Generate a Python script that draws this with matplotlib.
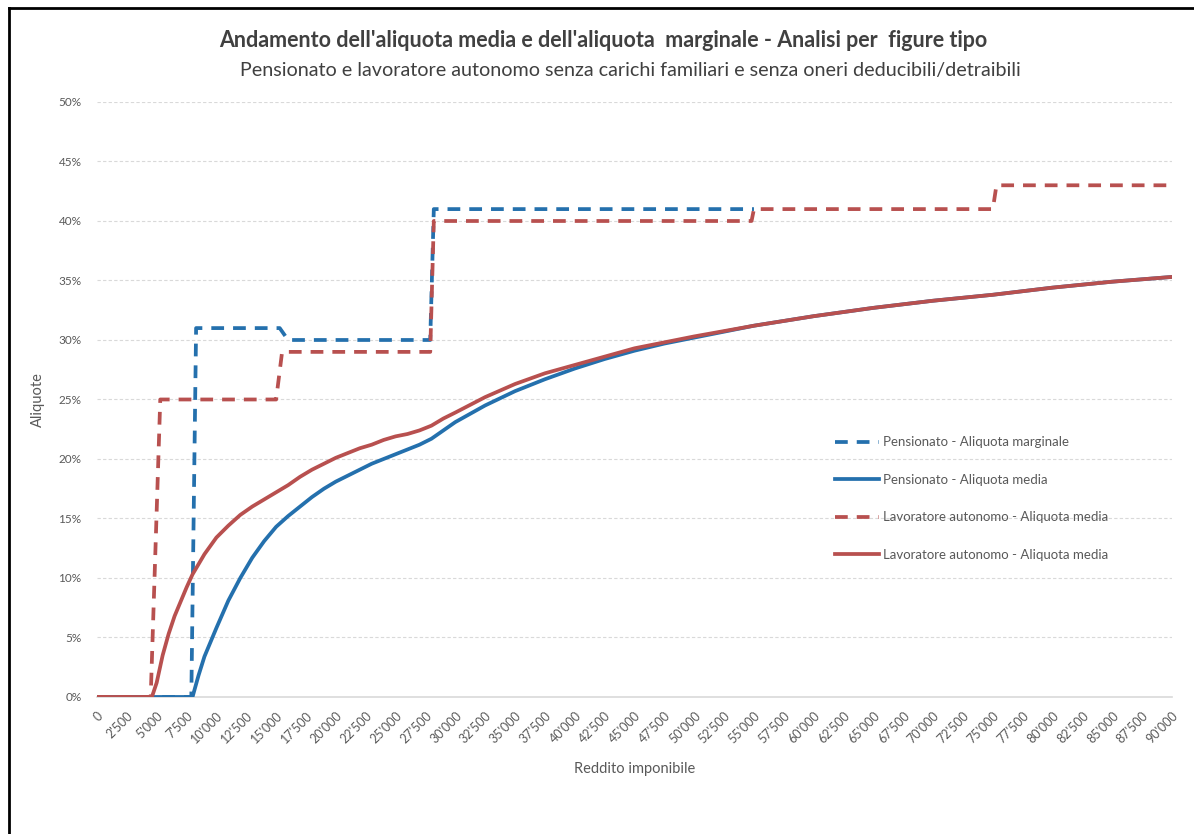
import matplotlib.pyplot as plt
import matplotlib as mpl
from matplotlib.lines import Line2D

mpl.rcParams['font.family'] = ['Lato', 'DejaVu Sans']

# reddito imponibile (euro) e aliquote (%)
pens_marg_x = [0, 7900, 8300, 15300, 16000, 27900, 28200, 55000]
pens_marg_y = [0, 0, 31, 31, 30, 30, 41, 41]

lav_marg_x = [0, 4500, 5300, 15000, 15500, 27900, 28200, 54800, 55000, 75000, 75300, 90000]
lav_marg_y = [0, 0, 25, 25, 29, 29, 40, 40, 41, 41, 43, 43]

pens_media_x = [0, 8000, 8500, 9000, 10000, 11000, 12000, 13000, 14000, 15000, 16000,
                17000, 18000, 19000, 20000, 21000, 22000, 23000, 24000, 25000, 26000,
                27000, 28000, 29000, 30000, 32500, 35000, 37500, 40000, 42500, 45000,
                47500, 50000, 55000, 60000, 65000, 70000, 75000, 80000, 85000, 90000]
pens_media_y = [0, 0, 1.8, 3.4, 5.8, 8.1, 10.0, 11.7, 13.1, 14.3, 15.2,
                16.0, 16.8, 17.5, 18.1, 18.6, 19.1, 19.6, 20.0, 20.4, 20.8,
                21.2, 21.7, 22.4, 23.1, 24.5, 25.7, 26.7, 27.6, 28.4, 29.1,
                29.7, 30.2, 31.2, 32.0, 32.7, 33.3, 33.8, 34.4, 34.9, 35.3]

lav_media_x = [0, 4600, 5000, 5500, 6000, 6500, 7000, 7500, 8000, 9000, 10000, 11000,
               12000, 13000, 14000, 15000, 16000, 17000, 18000, 19000, 20000, 21000,
               22000, 23000, 24000, 25000, 26000, 27000, 28000, 29000, 30000, 32500,
               35000, 37500, 40000, 42500, 45000, 47500, 50000, 55000, 60000, 65000,
               70000, 75000, 80000, 85000, 90000]
lav_media_y = [0, 0, 1.2, 3.5, 5.3, 6.8, 8.0, 9.2, 10.3, 12.0, 13.4, 14.4,
               15.3, 16.0, 16.6, 17.2, 17.8, 18.5, 19.1, 19.6, 20.1, 20.5,
               20.9, 21.2, 21.6, 21.9, 22.1, 22.4, 22.8, 23.4, 23.9, 25.2,
               26.3, 27.2, 27.9, 28.6, 29.3, 29.8, 30.3, 31.2, 32.0, 32.7,
               33.3, 33.8, 34.4, 34.9, 35.3]

x_ticks = list(range(0, 90001, 2500))
x_labels = ['0'] + ["%d'%03d" % (v // 1000, v % 1000) for v in x_ticks[1:]]
y_ticks = list(range(0, 51, 5))

blu = '#2470ad'
rosso = '#b8504f'
grigio = '#595959'

fig = plt.figure(figsize=(11.94, 8.34), dpi=100)
ax = fig.add_axes([0.0812, 0.1643, 0.9004, 0.7134])

dash = (3.4, 2.4)
ax.plot(pens_marg_x, pens_marg_y, color=blu, lw=2.7, dashes=dash, zorder=3)
ax.plot(pens_media_x, pens_media_y, color=blu, lw=2.7, zorder=3)
ax.plot(lav_marg_x, lav_marg_y, color=rosso, lw=2.7, dashes=dash, zorder=4)
ax.plot(lav_media_x, lav_media_y, color=rosso, lw=2.7, zorder=4)

ax.set_xlim(0, 90000)
ax.set_ylim(0, 50)
ax.set_yticks(y_ticks)
ax.set_yticklabels(['%d%%' % v for v in y_ticks], fontsize=8.5, color=grigio)
ax.set_xticks(x_ticks)
ax.set_xticklabels(x_labels, fontsize=9, color=grigio, rotation=45, ha='right',
                   rotation_mode='anchor')
ax.tick_params(length=0)
ax.tick_params(axis='y', pad=11)
ax.tick_params(axis='x', pad=9)

for v in y_ticks[1:]:
    ax.axhline(v, color='#d9d9d9', lw=0.8, ls=(0, (3, 2)), zorder=1)
for s in ['top', 'right', 'left']:
    ax.spines[s].set_visible(False)
ax.spines['bottom'].set_color('#d9d9d9')
ax.spines['bottom'].set_linewidth(1.2)

ax.set_ylabel('Aliquote', fontsize=10.5, color=grigio, labelpad=10)
ax.set_xlabel('Reddito imponibile', fontsize=10.5, color=grigio, labelpad=12)

handles = [Line2D([], [], color=blu, lw=2.7, dashes=dash),
           Line2D([], [], color=blu, lw=2.7),
           Line2D([], [], color=rosso, lw=2.7, dashes=dash),
           Line2D([], [], color=rosso, lw=2.7)]
labels = ['Pensionato - Aliquota marginale', 'Pensionato - Aliquota media',
          'Lavoratore autonomo - Aliquota media', 'Lavoratore autonomo - Aliquota media']
leg = ax.legend(handles, labels, loc='upper left', bbox_to_anchor=(0.675, 0.458),
                frameon=False, fontsize=9.5, handlelength=3.4, handletextpad=0.25,
                labelspacing=1.93)
for t in leg.get_texts():
    t.set_color(grigio)

fig.text(0.505, 0.951, "Andamento dell'aliquota media e dell'aliquota  marginale - Analisi per  figure tipo",
         ha='center', va='center', fontsize=15.5, fontweight='bold', color='#404040')
fig.text(0.528, 0.916, 'Pensionato e lavoratore autonomo senza carichi familiari e senza oneri deducibili/detraibili',
         ha='center', va='center', fontsize=14.2, color='#404040')

# cornice dell'immagine
fig.add_artist(Line2D([0.0075, 1.0], [0.9905, 0.9905], color='black', lw=2))
fig.add_artist(Line2D([0.0075, 0.0075], [0.0, 0.9905], color='black', lw=2))

plt.savefig('out.png', dpi=100)
